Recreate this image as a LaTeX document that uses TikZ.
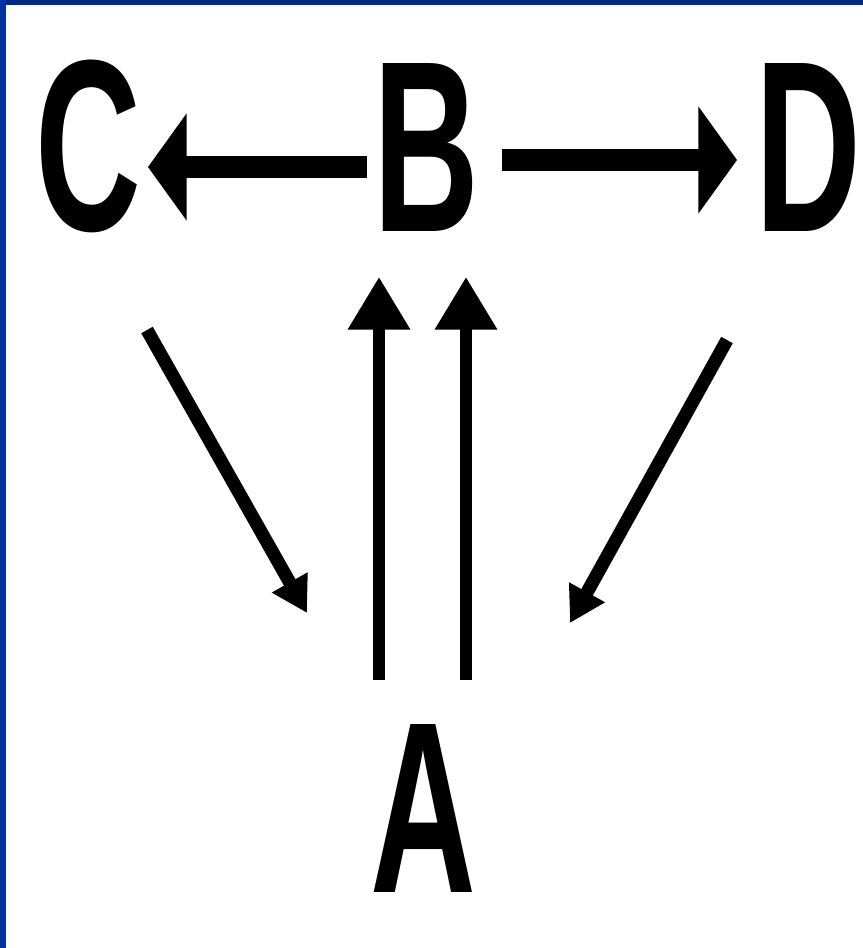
\documentclass[tikz,border=0pt]{standalone}
\usepackage{fontspec}
\setmainfont{Liberation Sans}
\usepackage{graphicx}
\usepackage{tikz}
\usetikzlibrary{arrows.meta,calc}
\definecolor{frametop}{HTML}{00297D}
\definecolor{frameleft}{HTML}{0033A0}
\newcommand{\narrow}[1]{\scalebox{0.6}[1]{#1}}

\begin{document}
\begin{tikzpicture}[
  x=0.02cm, y=-0.02cm,
  letter/.style={inner sep=0pt, font=\fontsize{139}{139}\selectfont\bfseries},
  flat/.style={line width=12.5pt, -{Triangle[length=22pt, width=60pt]}},
  rise/.style={line width=6.5pt, -{Triangle[length=30pt, width=34pt]}},
  slant/.style={line width=7.5pt, -{Triangle[length=20pt, width=22pt]}},
]
  \useasboundingbox (0,0) rectangle (863,948);
  \fill[white] (0,0) rectangle (863,948);
  \fill[frametop] (0,0) rectangle (863,5);
  \fill[frameleft] (0,0) rectangle (6,948);

  \node[letter] (c) at (88,146) {\narrow{C}};
  \node[letter] (b) at (426,147) {\narrow{B}};
  \node[letter] (d) at (808,147) {\narrow{D}};
  \node[letter] (a) at (423,808) {\narrow{A}};

  \draw[flat] ($(b)+(-59,20)$) -- ($(c)+(60,21)$);
  \draw[flat] ($(b)+(76,13)$) -- ($(d)+(-71,13)$);

  \draw[rise] ($(a)+(-44,-128)$) -- ($(b)+(-47,130)$);
  \draw[rise] ($(a)+(43,-128)$) -- ($(b)+(40,130)$);

  \draw[slant] ($(c)+(59,184)$) -- ($(a)+(-116,-195)$);
  \draw[slant] ($(d)+(-81,193)$) -- ($(a)+(147,-185)$);
\end{tikzpicture}
\end{document}
